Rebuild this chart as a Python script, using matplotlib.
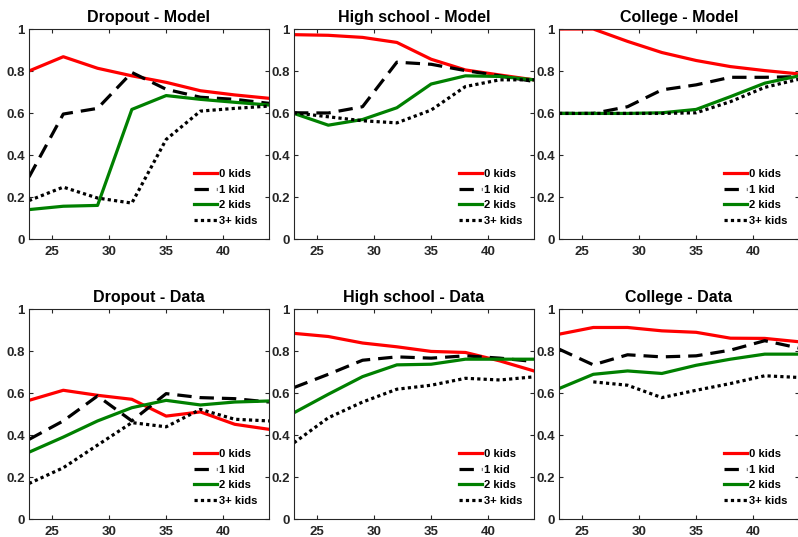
import matplotlib
matplotlib.use("Agg")
import matplotlib.pyplot as plt
import numpy as np

plt.rcParams['font.family'] = ['Liberation Sans', 'DejaVu Sans']

ages = [23, 26, 29, 32, 35, 38, 41, 44]
labels = ["0 kids", "1 kid", "2 kids", "3+ kids"]
titles = ["Dropout - Model", "High school - Model", "College - Model",
          "Dropout - Data", "High school - Data", "College - Data"]

nan = np.nan
# each panel: [0 kids, 1 kid, 2 kids, 3+ kids]
dropout_model = [
    [0.80, 0.868, 0.813, 0.777, 0.746, 0.706, 0.686, 0.670],
    [0.295, 0.595, 0.622, 0.793, 0.713, 0.675, 0.665, 0.646],
    [0.140, 0.156, 0.160, 0.617, 0.683, 0.665, 0.651, 0.638],
    [0.183, 0.247, 0.195, 0.171, 0.474, 0.609, 0.622, 0.633],
]
hs_model = [
    [0.973, 0.970, 0.960, 0.936, 0.856, 0.805, 0.781, 0.758],
    [0.601, 0.600, 0.630, 0.842, 0.832, 0.802, 0.777, 0.750],
    [0.598, 0.542, 0.569, 0.625, 0.738, 0.777, 0.774, 0.758],
    [0.601, 0.582, 0.563, 0.553, 0.614, 0.726, 0.758, 0.758],
]
college_model = [
    [1.0, 1.0, 0.941, 0.888, 0.850, 0.821, 0.802, 0.786],
    [0.598, 0.598, 0.630, 0.710, 0.734, 0.770, 0.770, 0.773],
    [0.598, 0.598, 0.598, 0.601, 0.617, 0.678, 0.742, 0.777],
    [0.598, 0.598, 0.598, 0.598, 0.601, 0.654, 0.722, 0.761],
]
dropout_data = [
    [0.565, 0.613, 0.589, 0.570, 0.490, 0.510, 0.451, 0.427],
    [0.379, 0.467, 0.586, 0.467, 0.597, 0.578, 0.573, 0.557],
    [0.318, 0.390, 0.467, 0.530, 0.565, 0.543, 0.557, 0.562],
    [0.169, 0.244, 0.352, 0.459, 0.439, 0.522, 0.475, 0.467],
]
hs_data = [
    [0.884, 0.869, 0.838, 0.820, 0.798, 0.793, 0.753, 0.705],
    [0.626, 0.689, 0.756, 0.772, 0.766, 0.777, 0.766, 0.750],
    [0.506, 0.594, 0.678, 0.734, 0.737, 0.761, 0.761, 0.761],
    [0.363, 0.482, 0.557, 0.618, 0.637, 0.670, 0.662, 0.677],
]
college_data = [
    [0.880, 0.912, 0.912, 0.896, 0.889, 0.861, 0.860, 0.844],
    [0.809, 0.734, 0.782, 0.772, 0.777, 0.804, 0.849, 0.814],
    [0.621, 0.689, 0.705, 0.693, 0.732, 0.761, 0.785, 0.785],
    [nan, 0.653, 0.637, 0.578, 0.613, 0.645, 0.682, 0.674],
]
panels = [dropout_model, hs_model, college_model,
          dropout_data, hs_data, college_data]

colors = ["#ff0000", "#000000", "#008000", "#000000"]
styles = ["-", (0, (4.5, 2.5)), "-", (0, (1, 1))]

W, H = 798, 537
fig = plt.figure(figsize=(W / 100, H / 100), dpi=100)

lefts = [29, 294, 559]
tops = [29, 309]
aw, ah = 240, 210

dark = "#262626"
for i, data in enumerate(panels):
    r, c = divmod(i, 3)
    ax = fig.add_axes([lefts[c] / W, 1 - (tops[r] + ah) / H, aw / W, ah / H])
    for k in range(4):
        ax.plot(ages, data[k], color=colors[k], linestyle=styles[k],
                lw=2.3, label=labels[k])
    ax.set_xlim(23, 44)
    ax.set_ylim(0, 1)
    ax.set_xticks([25, 30, 35, 40])
    ax.set_yticks([0, 0.2, 0.4, 0.6, 0.8, 1])
    ax.set_yticklabels(["0", "0.2", "0.4", "0.6", "0.8", "1"])
    ax.tick_params(direction="in", top=True, right=True, length=3,
                   width=0.8, color=dark, labelcolor=dark, labelsize=9.5, pad=3)
    ax.tick_params(axis="x", pad=5)
    for lab in ax.get_xticklabels() + ax.get_yticklabels():
        lab.set_fontweight("bold")
    for s in ax.spines.values():
        s.set_color(dark)
        s.set_linewidth(0.8)
    ax.set_title(titles[i], fontsize=11.5, fontweight="bold", pad=5)
    ax.legend(loc="lower right", bbox_to_anchor=(0.972, 0.041), frameon=False,
              prop={"weight": "bold", "size": 8.1}, handlelength=2.0,
              handletextpad=0.25, labelspacing=0.5, borderaxespad=0)

fig.savefig("out.png", dpi=100)
